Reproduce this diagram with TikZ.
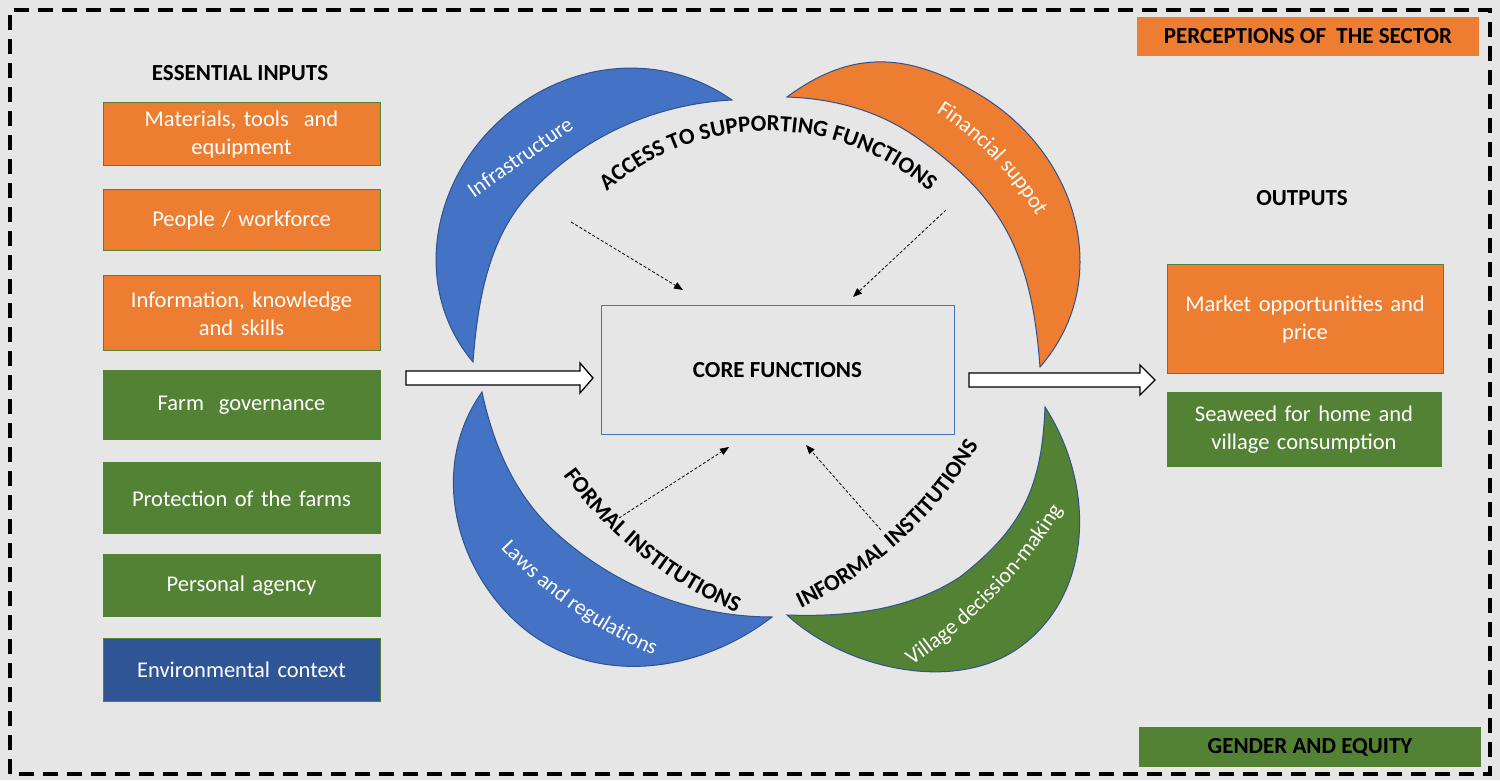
\documentclass[tikz,border=0pt]{standalone}
\usepackage{fontspec}
\setmainfont{Carlito}
\usetikzlibrary{decorations.text,arrows.meta}
\definecolor{bg}{HTML}{E7E6E6}
\definecolor{orng}{HTML}{ED7D31}
\definecolor{blu}{HTML}{4472C4}
\definecolor{grn}{HTML}{548235}
\definecolor{dblu}{HTML}{2F5597}
\definecolor{edge}{HTML}{2F528F}
\newcommand{\bigbold}{\bfseries\fontsize{23}{27}\selectfont}
\newcommand{\arclab}{\fontsize{22}{26}\selectfont}
\tikzset{
  inbox/.style={draw=grn, line width=1pt, minimum width=277pt, text width=270pt, align=center, text=white, font=\fontsize{22.5}{28}\selectfont, inner sep=0pt},
  orbox/.style={inbox, fill=orng},
  grbox/.style={inbox, fill=grn},
  head/.style={font=\bigbold, text=black},
  crescent/.style={draw=edge, line width=1pt},
  clabel/.style={text=white, font=\arclab},
  hollow/.style={draw=black, line width=1.3pt, fill=white},
  dotarrow/.style={draw=black, line width=0.8pt, densely dashed, -{Triangle[length=9pt,width=7pt]}},
}
\begin{document}
\begin{tikzpicture}[x=1pt,y=1pt]
\useasboundingbox (0,0) rectangle (1500,780);
\fill[bg] (0,0) rectangle (1500,780);
\draw[line width=3.5pt, dash pattern=on 15pt off 9pt] (10,6) rectangle (1490,770);

% headings
\node[head] (ein) at (240,707) {ESSENTIAL INPUTS};
\node[head] (out) at (1302,582) {OUTPUTS};

% inputs
\node[orbox, minimum height=63pt] (mat) at (241.5,645.5) {Materials, tools~ and\\equipment};
\node[orbox, minimum height=61pt] (ppl) at (241.5,559.5) {People / workforce};
\node[orbox, minimum height=75pt] (inf) at (241.5,466.5) {Information, knowledge\\and skills};
\node[grbox, minimum height=69pt] (farm) at (241.5,374.5) {Farm~ governance};
\node[grbox, minimum height=71pt] (prot) at (241.5,281.5) {Protection of the farms};
\node[grbox, minimum height=61pt] (pers) at (241.5,194.5) {Personal agency};
\node[inbox, fill=dblu, minimum height=63pt] (env) at (241.5,110.5) {Environmental context};

% outputs
\node[orbox, minimum width=276pt, minimum height=109pt] (mkt) at (1305,460.5) {Market opportunities and\\price};
\node[grbox, minimum width=274pt, minimum height=74pt] (sea) at (1304,350) {Seaweed for home and\\village consumption};

\node[fill=orng, minimum width=342pt, minimum height=39pt, inner sep=0pt, font=\bigbold] (perc) at (1308,743.5) {PERCEPTIONS OF~ THE SECTOR};
\node[fill=grn, minimum width=342pt, minimum height=40pt, inner sep=0pt, font=\bigbold] (gend) at (1310,33) {GENDER AND EQUITY};

% core
\node[draw=blu, line width=1pt, minimum width=353pt, minimum height=129pt, inner sep=0pt, head] (core) at (777.5,409.5) {CORE FUNCTIONS};

% hollow arrows
\draw[hollow] (406,395) -- (580,395) -- (580,387) -- (593,402) -- (580,417) -- (580,409) -- (406,409) -- cycle;
\draw[hollow] (969,393) -- (1140,393) -- (1140,385) -- (1155,400) -- (1140,415) -- (1140,407) -- (969,407) -- cycle;

% crescents
\draw[crescent, fill=blu] (473,418) .. controls (414.5,487.7) and (428.7,588.7) .. (493,653)
  .. controls (557.8,717.8) and (656.9,732.6) .. (732,680)
  .. controls (654.9,676) and (582.6,643.5) .. (530,587)
  .. controls (488.3,542.2) and (477.7,479) .. (473,418) -- cycle;
\draw[crescent, fill=orng] (787,683) .. controls (852.9,731.8) and (909.7,727.2) .. (980,685)
  .. controls (1078.3,625.9) and (1115.2,499.6) .. (1040,413)
  .. controls (1031.8,523.3) and (1004.2,583.5) .. (913,645)
  .. controls (875.4,670.3) and (832.3,681.4) .. (787,683) -- cycle;
\draw[crescent, fill=blu] (482,388) .. controls (433.6,320.2) and (449.7,227.4) .. (507,167)
  .. controls (577.6,92.6) and (690.7,100.4) .. (772,163)
  .. controls (690.7,163) and (612.5,194.6) .. (553,250)
  .. controls (514.2,286.2) and (493,336.1) .. (482,388) -- cycle;
\draw[crescent, fill=grn] (787,165) .. controls (845.8,110.8) and (955.3,86) .. (1020,133)
  .. controls (1094.3,187) and (1095,296) .. (1045,373)
  .. controls (1041.8,293.1) and (1023,252.3) .. (960,203)
  .. controls (908.7,169.7) and (848.2,162.9) .. (787,165) -- cycle;

% crescent labels
\node[clabel, rotate=35] (lin) at (520,623) {Infrastructure};
\path[decorate, decoration={text along path, text align=center, text color=white, text={|\arclab|Financial suppot}}]
  (768,405) ++(60:312) arc[start angle=60, end angle=28, radius=312];
\path[decorate, decoration={text along path, text align=center, text color=white, text={|\arclab|Laws and regulations}}]
  (836,548) ++(220:461) arc[start angle=220, end angle=250, radius=461];
\path[decorate, decoration={text along path, text align=center, text color=white, text={|\arclab|Village decission-making}}]
  (625,542) ++(299:515) arc[start angle=299, end angle=333, radius=515];

% curved labels
\path[decorate, decoration={text along path, text align=center, text={|\bigbold|ACCESS TO SUPPORTING FUNCTIONS}}]
  (768,405) ++(140:244) arc[start angle=140, end angle=40, radius=244];
\path[decorate, decoration={text along path, text align=center, text={|\bigbold|FORMAL INSTITUTIONS}}]
  (896,545) ++(213:410) arc[start angle=213, end angle=250, radius=410];
\path[decorate, decoration={text along path, text align=center, text={|\bigbold|INFORMAL INSTITUTIONS}}]
  (625,542) ++(293:410) arc[start angle=293, end angle=332, radius=410];

% dotted arrows
\coordinate (d1) at (571,558);
\coordinate (d2) at (946,570);
\coordinate (d3) at (619,262);
\coordinate (d4) at (881,250);
\coordinate (e1) at (683,490);
\coordinate (e2) at (853,483);
\coordinate (e3) at (729,333);
\coordinate (e4) at (806,335);
\draw[dotarrow] (d1) -- (e1);
\draw[dotarrow] (d2) -- (e2);
\draw[dotarrow] (d3) -- (e3);
\draw[dotarrow] (d4) -- (e4);
\end{tikzpicture}
\end{document}
